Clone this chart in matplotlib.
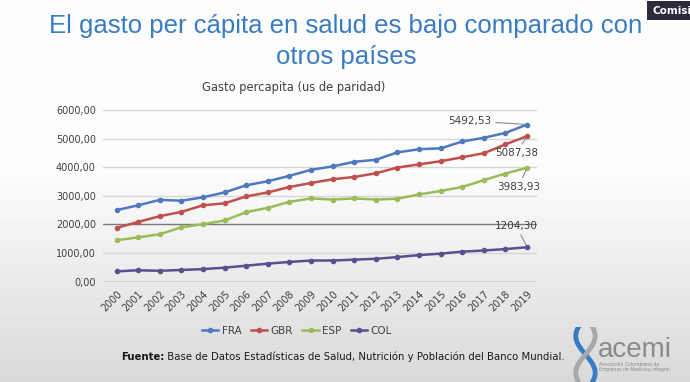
import matplotlib.pyplot as plt
import numpy as np

# datos
years = [str(y) for y in range(2000, 2020)]
fra = [2500, 2670, 2860, 2830, 2950, 3120, 3370, 3510, 3700, 3910, 4030, 4190, 4260, 4520, 4630, 4660, 4900, 5030, 5200, 5492.53]
gbr = [1880, 2090, 2290, 2440, 2670, 2740, 2980, 3120, 3310, 3450, 3580, 3660, 3790, 3990, 4100, 4210, 4350, 4490, 4800, 5087.38]
esp = [1450, 1550, 1660, 1900, 2010, 2140, 2430, 2580, 2790, 2910, 2870, 2910, 2870, 2900, 3050, 3170, 3310, 3550, 3780, 3983.93]
col = [360, 400, 380, 410, 440, 490, 560, 630, 690, 740, 740, 770, 800, 860, 930, 980, 1050, 1090, 1140, 1204.30]
yticks = [0, 1000, 2000, 3000, 4000, 5000, 6000]

series = [("FRA", fra, "#4f78bf"), ("GBR", gbr, "#c0504d"),
          ("ESP", esp, "#9bbb59"), ("COL", col, "#5b4f8f")]

fig = plt.figure(figsize=(6.9, 3.82), dpi=100)

# fondo con degradado gris abajo
bg = fig.add_axes([0, 0, 1, 1], zorder=-10)
rows = np.arange(382)
grad = np.where(rows < 170, 0.99, 0.99 - (rows - 170) / 212 * 0.14)[:, None]
bg.imshow(grad, cmap="gray", vmin=0, vmax=1, aspect="auto", extent=[0, 1, 0, 1])
bg.axis("off")

fig.text(0.501, 0.9136, "El gasto per cápita en salud es bajo comparado con",
         ha="center", va="baseline", fontsize=18.5, color="#3a7cc3", family="Liberation Sans")
fig.text(0.502, 0.8325, "otros países", ha="center", va="baseline", fontsize=18.5,
         color="#3a7cc3", family="Liberation Sans")

# recuadro de la esquina
fig.text(0.945, 0.972, "Comisió", ha="left", va="center", fontsize=7.5, color="white",
         weight="bold", bbox=dict(boxstyle="square,pad=0.45", fc="#2b2b3b", ec="none"))

ax = fig.add_axes([0.149, 0.2626, 0.629, 0.4494])
x = np.arange(len(years))
for name, vals, c in series:
    ax.plot(x, vals, color=c, lw=1.8, marker="o", ms=3, label=name)

ax.set_xlim(-0.64, len(years) - 0.55)
ax.set_ylim(0, 6000)
ax.set_yticks(yticks)
ax.set_yticklabels([f"{v:.2f}".replace(".", ",") for v in yticks], fontsize=7, color="#404040")
ax.set_xticks(x)
ax.set_xticklabels(years, rotation=45, ha="right", rotation_mode="anchor", fontsize=7, color="#404040")
ax.tick_params(length=0, pad=5)
ax.set_facecolor("none")
for s in ax.spines.values():
    s.set_visible(False)
for v in yticks:
    dark = v in (0, 2000)
    ax.axhline(v, color="#7a7a7a" if dark else "#d6d6d6", lw=1.0, zorder=0)

fig.text(0.425, 0.77, "Gasto percapita (us de paridad)", fontsize=8.3, color="#404040",
         ha="center", va="center")

# etiquetas del ultimo valor
last = len(years) - 1
labels = [(fra[-1], (16.35, 5620)), (gbr[-1], (18.5, 4500)), (esp[-1], (18.6, 3320)), (col[-1], (18.5, 1950))]
for val, pos in labels:
    ax.annotate(f"{val:.2f}".replace(".", ","), xy=(last, val), xytext=pos,
                ha="center", va="center", fontsize=7.5, color="#404040",
                arrowprops=dict(arrowstyle="-", color="#8c8c8c", lw=0.8, shrinkA=1, shrinkB=2))

ax.legend(loc="center", bbox_to_anchor=(0.447, -0.285), ncol=4, frameon=False,
          fontsize=7.5, handlelength=1.6, columnspacing=0.9, handletextpad=0.3,
          labelcolor="#404040")

src = fig.text(0.175, 0.065, "Fuente:", fontsize=7.3, weight="bold", color="#1a1a1a",
               ha="left", va="center")
fig.add_artist(plt.Annotation(
    " Base de Datos Estadísticas de Salud, Nutrición y Población del Banco Mundial.",
    xy=(1, 0.5), xycoords=src, ha="left", va="center", fontsize=7.3, color="#1a1a1a"))

# logo acemi
lg = fig.add_axes([0.83, 0.0, 0.037, 0.145])
t = np.linspace(0, 1, 100)
lg.plot(0.5 + 0.38 * np.sin(t * np.pi * 1.5 + 0.8), t, color="#3a7cc3", lw=3.5)
lg.plot(0.5 - 0.38 * np.sin(t * np.pi * 1.5 + 0.8), t, color="#a8a8a8", lw=3.5)
lg.set_xlim(0, 1)
lg.set_ylim(0, 1)
lg.axis("off")
fig.text(0.866, 0.065, "acemi", fontsize=20, color="#8a8a8a", ha="left", va="baseline",
         family="Liberation Sans")
fig.text(0.868, 0.04, "Asociación Colombiana de\nEmpresas de Medicina Integral", fontsize=3.3,
         color="#8a8a8a", ha="left", va="center", linespacing=1.0)

fig.savefig("out.png", dpi=100)
